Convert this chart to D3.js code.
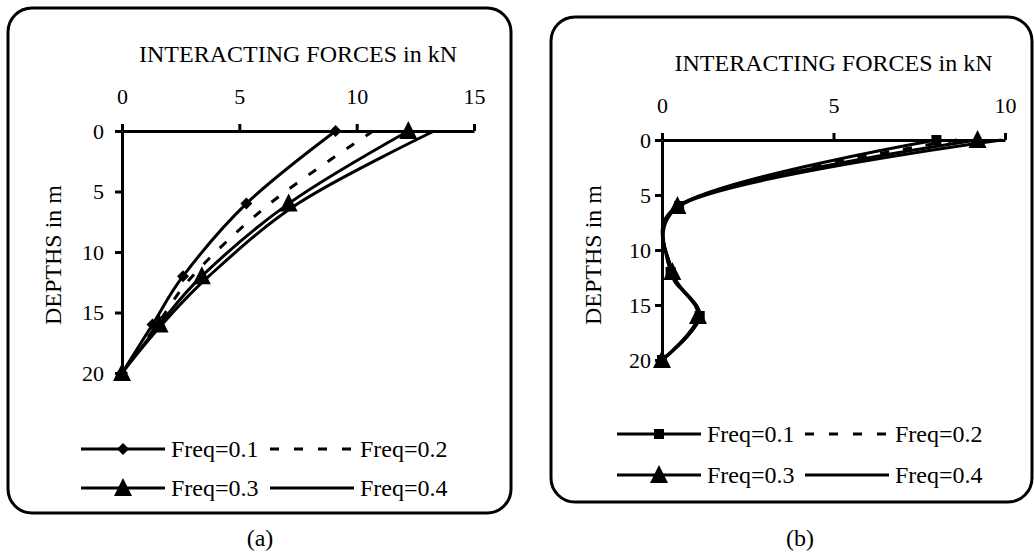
<!DOCTYPE html>
<html>
<head>
<meta charset="utf-8">
<script src="https://cdn.jsdelivr.net/npm/d3@7"></script>
<style>
body { margin: 0; background: #fff; }
svg text { font-family: "Liberation Serif", "Times New Roman", serif; fill: #000; }
</style>
</head>
<body>
<svg width="1034" height="558"></svg>
<script>
// depths (m) where forces were sampled
const depths = [0, 6, 12, 16, 20];
const freqLabels = ["Freq=0.1", "Freq=0.2", "Freq=0.3", "Freq=0.4"];

// panel (a) interacting forces, kN
const forceA1 = [9.1, 5.3, 2.6, 1.3, 0];
const forceA2 = [10.7, 6.3, 3.0, 1.5, 0];
const forceA3 = [12.2, 7.1, 3.4, 1.6, 0];
const forceA4 = [13.3, 7.5, 3.7, 1.7, 0];

// panel (b) interacting forces, kN
const forceB1 = [8.0, 0.5, 0.25, 1.1, 0];
const forceB2 = [8.6, 0.5, 0.25, 1.1, 0];
const forceB3 = [9.2, 0.45, 0.3, 1.05, 0];
const forceB4 = [9.9, 0.5, 0.3, 1.1, 0];

const xTicksA = [0, 5, 10, 15];
const xTicksB = [0, 5, 10];
const yTicks = [0, 5, 10, 15, 20];

const svg = d3.select("svg");

const markerPaths = {
    diamond: "M0,-6L6,0L0,6L-6,0Z",
    square: "M-5,-5H5V5H-5Z",
    triangle: "M0,-10L9,8L-9,8Z",
    none: null
};

function drawPanel(p) {
    const g = svg.append("g");

    g.append("rect")
        .attr("x", p.box[0]).attr("y", p.box[1])
        .attr("width", p.box[2]).attr("height", p.box[3])
        .attr("rx", 24).attr("ry", 24)
        .attr("fill", "none")
        .attr("stroke", "#000")
        .attr("stroke-width", 3);

    const x = d3.scaleLinear().domain([0, p.xMax]).range([p.x0, p.x1]);
    const y = d3.scaleLinear().domain([0, 20]).range([p.y0, p.y1]);

    const xAxis = g.append("g")
        .attr("transform", "translate(0," + p.y0 + ")")
        .call(d3.axisTop(x).tickValues(p.xTicks).tickSize(7).tickSizeOuter(0).tickPadding(20));

    const yAxis = g.append("g")
        .attr("transform", "translate(" + p.x0 + ",0)")
        .call(d3.axisLeft(y).tickValues(yTicks).tickSize(7).tickSizeOuter(0).tickPadding(p.yPad));

    [xAxis, yAxis].forEach(a => {
        a.select(".domain").attr("stroke-width", 3);
        a.selectAll(".tick line").attr("stroke-width", 3);
        a.selectAll(".tick text")
            .style("font-family", "Liberation Serif")
            .attr("font-size", 22)
            .attr("fill", "#000");
    });

    g.append("text")
        .attr("x", (p.x0 + p.x1) / 2)
        .attr("y", p.y0 - 69)
        .attr("text-anchor", "middle")
        .attr("font-size", 24)
        .text("INTERACTING FORCES in kN");

    g.append("text")
        .attr("transform", "translate(" + p.yLabelX + ",255) rotate(-90)")
        .attr("text-anchor", "middle")
        .attr("font-size", 24)
        .text("DEPTHS in m");

    // smoothed lines, like the spreadsheet's "smoothed line" option
    const line = d3.line()
        .x(d => x(d.force))
        .y(d => y(d.depth))
        .curve(d3.curveCatmullRom.alpha(0.25));

    p.series.forEach(s => {
        const pts = depths.map((dp, i) => ({ depth: dp, force: s.values[i] }));
        g.append("path")
            .datum(pts)
            .attr("d", line)
            .attr("fill", "none")
            .attr("stroke", "#000")
            .attr("stroke-width", 3)
            .attr("stroke-dasharray", s.dash ? "9,14" : null);
        if (markerPaths[s.marker]) {
            g.selectAll(null)
                .data(pts)
                .enter().append("path")
                .attr("d", markerPaths[s.marker])
                .attr("transform", d => "translate(" + x(d.force) + "," + y(d.depth) + ")")
                .attr("fill", "#000");
        }
    });

    // legend, two rows by two columns
    p.series.forEach((s, i) => {
        const col = i % 2, row = Math.floor(i / 2);
        const lx = p.legX[col], ly = p.legY[row];
        g.append("line")
            .attr("x1", lx).attr("x2", lx + 84)
            .attr("y1", ly).attr("y2", ly)
            .attr("stroke", "#000")
            .attr("stroke-width", 3)
            .attr("stroke-dasharray", s.dash ? "9,15" : null);
        if (markerPaths[s.marker]) {
            g.append("path")
                .attr("d", markerPaths[s.marker])
                .attr("transform", "translate(" + (lx + 42) + "," + ly + ")")
                .attr("fill", "#000");
        }
        g.append("text")
            .attr("x", lx + 90)
            .attr("y", ly)
            .attr("dy", "0.33em")
            .attr("font-size", 24)
            .text(s.label);
    });

    g.append("text")
        .attr("x", p.capX)
        .attr("y", 546)
        .attr("text-anchor", "middle")
        .attr("font-size", 24)
        .text(p.caption);
}

drawPanel({
    box: [8, 8, 503, 505],
    xMax: 15, xTicks: xTicksA,
    x0: 122, x1: 474, y0: 131, y1: 373,
    yPad: 11, yLabelX: 61,
    legX: [81, 270], legY: [449, 488],
    capX: 260, caption: "(a)",
    series: [
        { label: freqLabels[0], values: forceA1, marker: "diamond", dash: false },
        { label: freqLabels[1], values: forceA2, marker: "none", dash: true },
        { label: freqLabels[2], values: forceA3, marker: "triangle", dash: false },
        { label: freqLabels[3], values: forceA4, marker: "none", dash: false }
    ]
});

drawPanel({
    box: [551, 17, 481, 485],
    xMax: 10, xTicks: xTicksB,
    x0: 662, x1: 1005, y0: 140, y1: 360,
    yPad: 4, yLabelX: 601,
    legX: [617, 805], legY: [434, 475],
    capX: 800, caption: "(b)",
    series: [
        { label: freqLabels[0], values: forceB1, marker: "square", dash: false },
        { label: freqLabels[1], values: forceB2, marker: "none", dash: true },
        { label: freqLabels[2], values: forceB3, marker: "triangle", dash: false },
        { label: freqLabels[3], values: forceB4, marker: "none", dash: false }
    ]
});
</script>
</body>
</html>
